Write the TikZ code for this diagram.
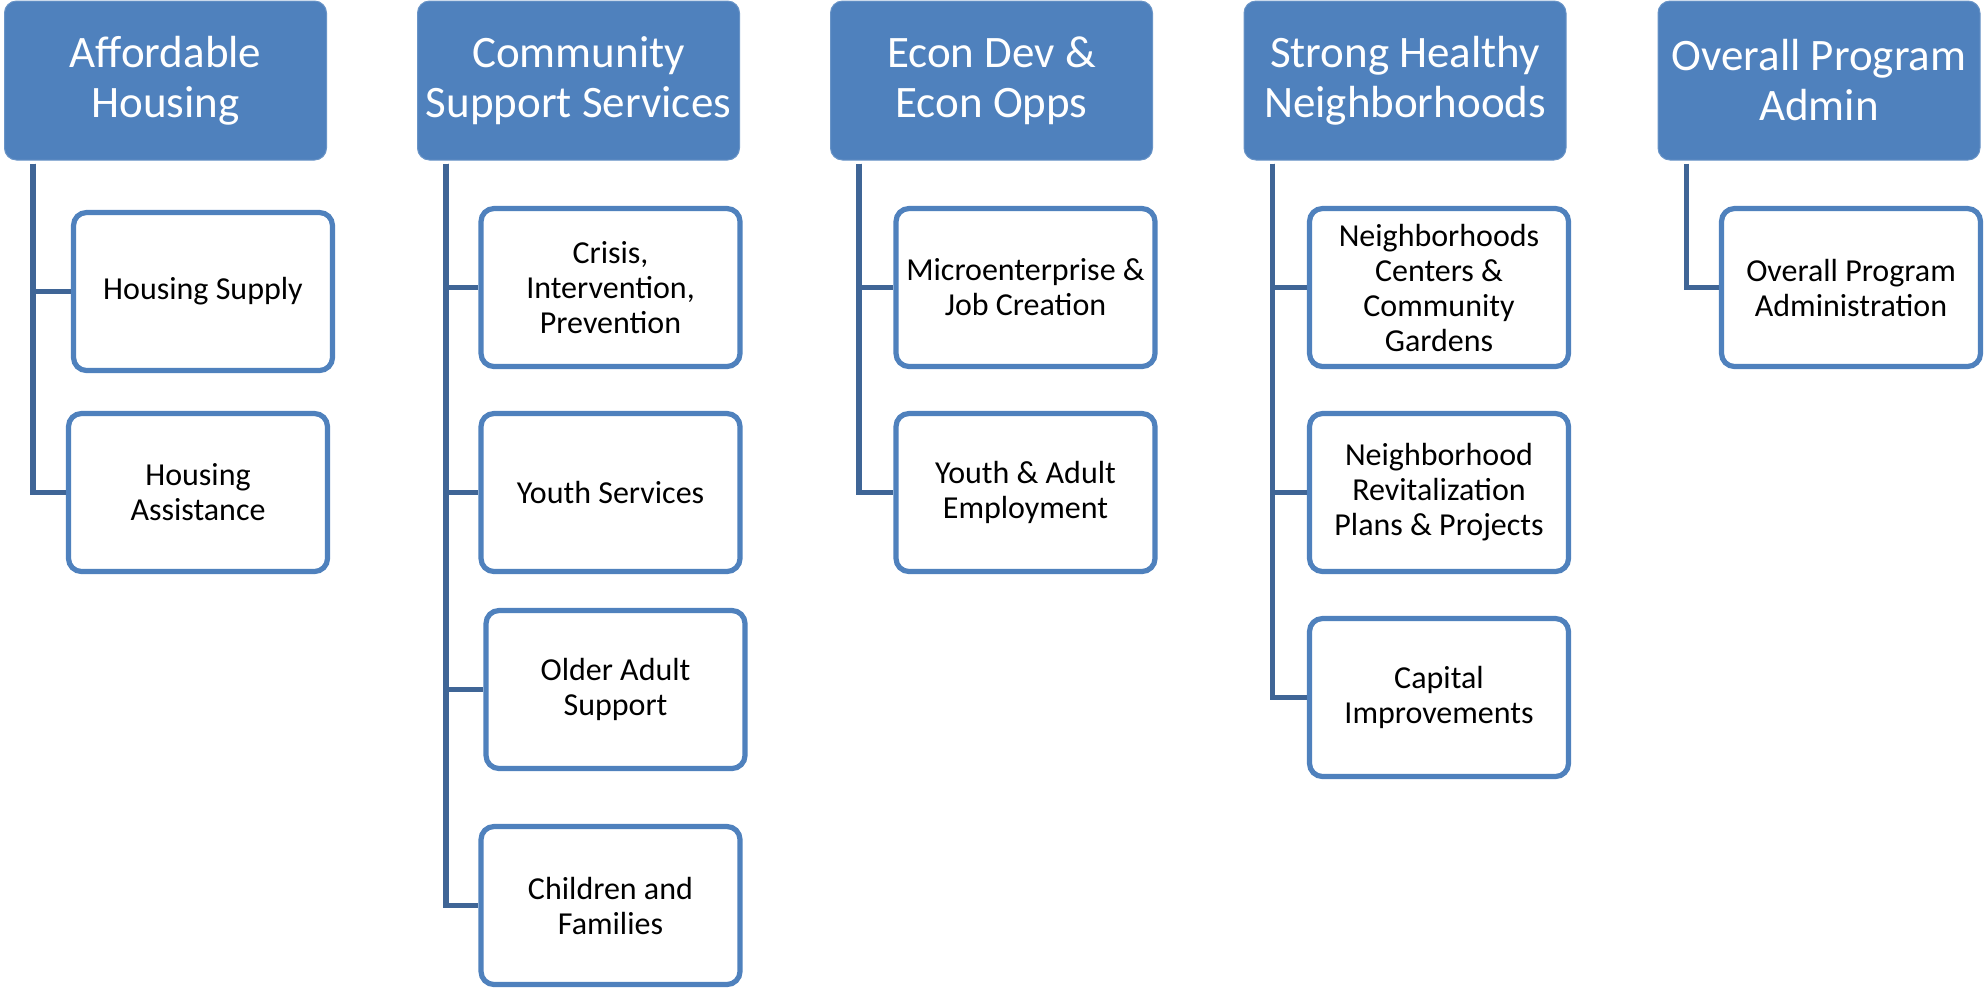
\documentclass[tikz,border=0pt]{standalone}
\usepackage{fontspec}
\setmainfont{Carlito}
\usepackage{tikz}
\usetikzlibrary{trees}

\definecolor{hdrblue}{RGB}{79,129,189}
\definecolor{linkblue}{RGB}{63,101,150}

\begin{document}
\begin{tikzpicture}[x=0.5pt, y=0.5pt,
	head/.style={rectangle, rounded corners=6pt, fill=hdrblue, draw=hdrblue!85!white, line width=0.5pt, minimum width=161pt, minimum height=79.5pt, inner sep=0pt, text=white, align=center, font=\fontsize{22.5}{25}\selectfont},
	leaf/.style={rectangle, rounded corners=6.5pt, draw=hdrblue, line width=2.6pt, fill=white, minimum width=129.5pt, minimum height=79pt, inner sep=0pt, align=center, font=\fontsize{16}{17.5}\selectfont},
	grow via three points={one child at (34,-207) and two children at (34,-207) and (34,-412)},
	edge from parent/.style={draw=linkblue, line width=2.6pt},
	edge from parent path={(\tikzparentnode.south west) ++(29,-3) |- (\tikzchildnode.west)}]

	\useasboundingbox (0,0) rectangle (1985,-993);

	\node [head] (housing) at (165.5,-80.5) {Affordable\\Housing}
		child {node [leaf, xshift=1.75pt, yshift=-2pt] {Housing Supply}}
		child {node [leaf, xshift=-0.75pt] {Housing\\Assistance}};

	\node [head] (support) at (578.5,-80.5) {Community\\Support Services}
		child {node [leaf, xshift=-1pt] {Crisis,\\Intervention,\\Prevention}}
		child {node [leaf, xshift=-1pt] {Youth Services}}
		child {node [leaf, xshift=1.5pt, yshift=4pt] {Older Adult\\Support}}
		child {node [leaf, xshift=-1pt, yshift=-1.5pt] {Children and\\Families}};

	\node [head] (econ) at (991.5,-80.5) {Econ Dev \&\\Econ Opps}
		child {node [leaf] {Microenterprise \&\\Job Creation}}
		child {node [leaf] {Youth \& Adult\\Employment}};

	\node [head] (hoods) at (1405,-80.5) {Strong Healthy\\Neighborhoods}
		child {node [leaf] {Neighborhoods\\Centers \&\\Community\\Gardens}}
		child {node [leaf] {Neighborhood\\Revitalization\\Plans \& Projects}}
		child {node [leaf] {Capital\\Improvements}};

	\node [head] (admin) at (1819,-80.5) {Overall Program\\Admin}
		child {node [leaf, xshift=-1pt] {Overall Program\\Administration}};
\end{tikzpicture}
\end{document}
